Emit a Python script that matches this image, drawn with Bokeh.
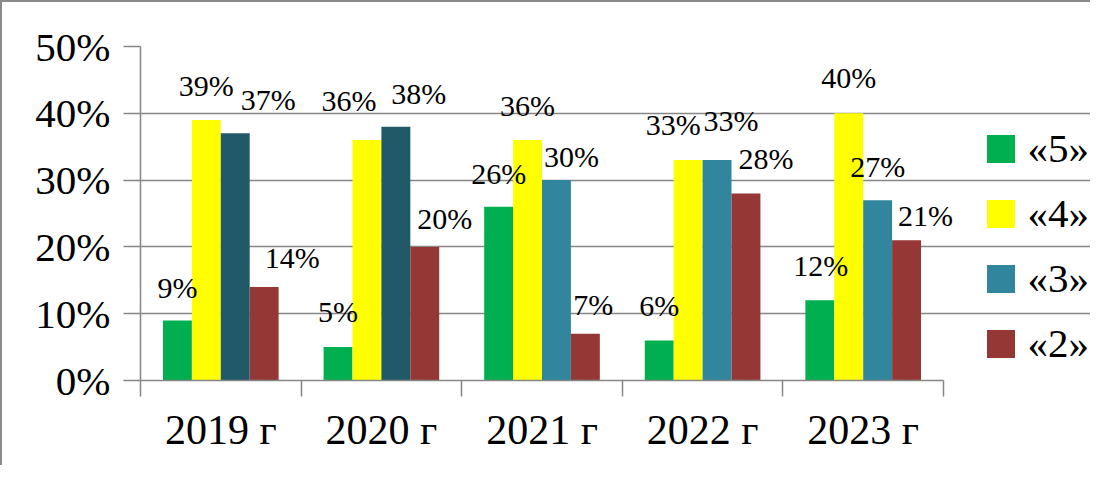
from bokeh.plotting import figure
from bokeh.models import ColumnDataSource, FixedTicker, Legend, LegendItem, LabelSet
from bokeh.core.properties import value
from bokeh.embed import file_html
from bokeh.resources import INLINE

# ---- data ----
years = ["2019 г", "2020 г", "2021 г", "2022 г", "2023 г"]
series_names = ["«5»", "«4»", "«3»", "«2»"]
grade5 = [9, 5, 26, 6, 12]
grade4 = [39, 36, 36, 33, 40]
grade3 = [37, 38, 30, 33, 27]
grade2 = [14, 20, 7, 28, 21]
y_ticks = [0, 10, 20, 30, 40, 50]

# ---- styles ----
FONT = "Liberation Serif"
GRAY = "#868686"
series_values = [grade5, grade4, grade3, grade2]
series_colors = [
    ["#00B050"] * 5,
    ["#FFFF00"] * 5,
    ["#215968", "#215968", "#31859C", "#31859C", "#31859C"],
    ["#953735"] * 5,
]
bar_offsets = [-0.27, -0.09, 0.09, 0.27]
bar_width = 0.18
# label placement tweaks (pixels)
label_dx = [
    [0, 0, 0, 0, 1],
    [0, -18, 0, -15, 0],
    [33, 23, 15, 14, 0],
    [28, 20, 8, 20, 19],
]
label_gap = [
    [22, 25, 23, 24, 24],
    [24, 29, 24, 25, 25],
    [23, 23, 13, 29, 23],
    [19, 18, 19, 24, 14],
]

W, H = 1090, 465
MB_LEFT, MB_RIGHT, MB_TOP = 138, 2, 44
FRAME_H = 334
PX_PER_CAT = 160.6
x_end = (W - MB_LEFT - MB_RIGHT) / PX_PER_CAT
n = len(years)

p = figure(
    width=W, height=H,
    x_range=(0, x_end), y_range=(0, 50),
    output_backend="svg", toolbar_location=None,
    min_border_left=MB_LEFT, min_border_right=MB_RIGHT,
    min_border_top=MB_TOP, min_border_bottom=H - MB_TOP - FRAME_H,
)
p.outline_line_color = None
p.styles = {"border-top": "2px solid #8a8a8a", "border-left": "2px solid #8a8a8a"}

legend_items = []
for k in range(4):
    vals = series_values[k]
    src = ColumnDataSource(dict(
        x=[i + 0.5 + bar_offsets[k] for i in range(n)],
        top=vals,
        color=series_colors[k],
        dx=label_dx[k],
        gap=label_gap[k],
        text=[f"{v}%" for v in vals],
    ))
    r = p.vbar(x="x", top="top", bottom=0, width=bar_width, source=src,
               fill_color="color", line_color=None)
    legend_items.append(LegendItem(label=series_names[k], renderers=[r], index=2))
    p.add_layout(LabelSet(
        x="x", y="top", text="text", x_offset="dx", y_offset="gap", source=src,
        text_font=value(FONT), text_font_size="30px", text_color="black",
        text_align="center", text_baseline="alphabetic",
    ))

# x axis
xa = p.xaxis[0]
xa.bounds = (0, n)
xa.ticker = FixedTicker(ticks=[i + 0.5 for i in range(n)],
                        minor_ticks=list(range(n + 1)))
xa.major_label_overrides = {i + 0.5: y for i, y in enumerate(years)}
xa.major_tick_out = 0
xa.major_tick_in = 0
xa.minor_tick_out = 16
xa.minor_tick_in = 0
xa.minor_tick_line_color = GRAY
xa.minor_tick_line_width = 1.5
xa.axis_line_color = GRAY
xa.axis_line_width = 1.5
xa.major_label_text_font = FONT
xa.major_label_text_font_size = "42px"
xa.major_label_text_color = "black"
xa.major_label_standoff = 10

# y axis
ya = p.yaxis[0]
ya.ticker = FixedTicker(ticks=y_ticks, minor_ticks=[])
ya.major_label_overrides = {t: f"{t}%" for t in y_ticks}
ya.major_tick_out = 17
ya.major_tick_in = 0
ya.major_tick_line_color = GRAY
ya.major_tick_line_width = 1.5
ya.axis_line_color = GRAY
ya.axis_line_width = 1.5
ya.major_label_text_font = FONT
ya.major_label_text_font_size = "41px"
ya.major_label_text_color = "black"
ya.major_label_standoff = 13

p.xgrid.visible = False
p.ygrid.ticker = FixedTicker(ticks=y_ticks)
p.ygrid.bounds = (0, n)
p.ygrid.grid_line_color = GRAY
p.ygrid.grid_line_width = 1.5

legend = Legend(items=legend_items, location=(842.5, 13))
legend.padding = 0
legend.margin = 0
legend.border_line_color = None
legend.background_fill_alpha = 0
legend.glyph_width = 35
legend.glyph_height = 35
legend.label_standoff = 10
legend.label_text_font = FONT
legend.label_text_font_size = "41px"
legend.label_text_color = "black"
legend.spacing = 17
p.add_layout(legend, "center")

open("out.html", "w").write(file_html(p, INLINE))
